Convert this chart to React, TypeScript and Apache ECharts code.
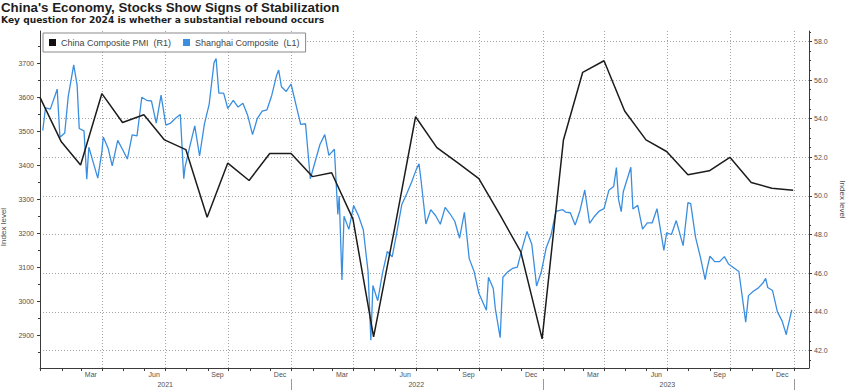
import React, { useEffect, useRef } from 'react';
import * as echarts from 'echarts';

const TITLE = "China's Economy, Stocks Show Signs of Stabilization";
const SUBTITLE = 'Key question for 2024 is whether a substantial rebound occurs';
const PMI_NAME = 'China Composite PMI  (R1)';
const SH_NAME = 'Shanghai Composite  (L1)';
const AXIS_NAME = 'Index level';

// China Composite PMI, monthly (plotted at month end)
const PMI_MONTHS = [
  '2020-12', '2021-01', '2021-02', '2021-03', '2021-04', '2021-05', '2021-06', '2021-07', '2021-08', '2021-09', '2021-10', '2021-11', '2021-12',
  '2022-01', '2022-02', '2022-03', '2022-04', '2022-05', '2022-06', '2022-07', '2022-08', '2022-09', '2022-10', '2022-11', '2022-12',
  '2023-01', '2023-02', '2023-03', '2023-04', '2023-05', '2023-06', '2023-07', '2023-08', '2023-09', '2023-10', '2023-11', '2023-12',
];
const PMI_VALUES = [
  55.1, 52.8, 51.6, 55.3, 53.8, 54.2, 52.9, 52.4, 48.9, 51.7, 50.8, 52.2, 52.2,
  51.0, 51.2, 48.8, 42.7, 48.4, 54.1, 52.5, 51.7, 50.9, 49.0, 47.1, 42.6,
  52.9, 56.4, 57.0, 54.4, 52.9, 52.3, 51.1, 51.3, 52.0, 50.7, 50.4, 50.3,
];

// Shanghai Composite
const SH_DATES = [
  '2021-01-04', '2021-01-08', '2021-01-15', '2021-01-22', '2021-01-25', '2021-01-29', '2021-02-05', '2021-02-10', '2021-02-18', '2021-02-23',
  '2021-02-26', '2021-03-05', '2021-03-09', '2021-03-12', '2021-03-19', '2021-03-25', '2021-03-31', '2021-04-02', '2021-04-09', '2021-04-15',
  '2021-04-23', '2021-04-30', '2021-05-07', '2021-05-14', '2021-05-21', '2021-05-28', '2021-06-04', '2021-06-11', '2021-06-18', '2021-06-25',
  '2021-07-02', '2021-07-09', '2021-07-16', '2021-07-23', '2021-07-28', '2021-07-30', '2021-08-06', '2021-08-13', '2021-08-20', '2021-08-27',
  '2021-09-03', '2021-09-10', '2021-09-13', '2021-09-17', '2021-09-24', '2021-09-30', '2021-10-08', '2021-10-15', '2021-10-22', '2021-10-29',
  '2021-11-05', '2021-11-12', '2021-11-19', '2021-11-26', '2021-12-03', '2021-12-10', '2021-12-13', '2021-12-17', '2021-12-24', '2021-12-31',
  '2022-01-07', '2022-01-14', '2022-01-21', '2022-01-28', '2022-02-11', '2022-02-18', '2022-02-24', '2022-03-04', '2022-03-09', '2022-03-11',
  '2022-03-15', '2022-03-18', '2022-03-25', '2022-04-01', '2022-04-08', '2022-04-15', '2022-04-22', '2022-04-26', '2022-04-29', '2022-05-06',
  '2022-05-13', '2022-05-20', '2022-05-27', '2022-06-02', '2022-06-10', '2022-06-17', '2022-06-24', '2022-07-01', '2022-07-05', '2022-07-08',
  '2022-07-15', '2022-07-22', '2022-07-29', '2022-08-05', '2022-08-12', '2022-08-19', '2022-08-26', '2022-09-02', '2022-09-09', '2022-09-16',
  '2022-09-23', '2022-09-30', '2022-10-11', '2022-10-14', '2022-10-21', '2022-10-24', '2022-10-31', '2022-11-04', '2022-11-11', '2022-11-18',
  '2022-11-25', '2022-12-02', '2022-12-09', '2022-12-16', '2022-12-23', '2022-12-30',
  '2023-01-06', '2023-01-13', '2023-01-20', '2023-01-30', '2023-02-03', '2023-02-10', '2023-02-17', '2023-02-24', '2023-03-03', '2023-03-10',
  '2023-03-17', '2023-03-24', '2023-03-31', '2023-04-07', '2023-04-14', '2023-04-18', '2023-04-21', '2023-04-25', '2023-04-28', '2023-05-09',
  '2023-05-12', '2023-05-19', '2023-05-26', '2023-06-02', '2023-06-09', '2023-06-16', '2023-06-26', '2023-06-30', '2023-07-07', '2023-07-14',
  '2023-07-24', '2023-07-31', '2023-08-04', '2023-08-11', '2023-08-18', '2023-08-25', '2023-08-28', '2023-09-01', '2023-09-08', '2023-09-15',
  '2023-09-22', '2023-09-28', '2023-10-13', '2023-10-20', '2023-10-23', '2023-10-27', '2023-11-03', '2023-11-10', '2023-11-17', '2023-11-21',
  '2023-11-24', '2023-12-01', '2023-12-08', '2023-12-15', '2023-12-21', '2023-12-22', '2023-12-29',
];
const SH_VALUES = [
  3503, 3570, 3566, 3607, 3625, 3483, 3496, 3603, 3696, 3636,
  3509, 3502, 3360, 3454, 3405, 3363, 3441, 3484, 3451, 3399,
  3474, 3447, 3419, 3490, 3487, 3601, 3592, 3590, 3525, 3607,
  3519, 3525, 3539, 3550, 3361, 3397, 3458, 3517, 3428, 3522,
  3581, 3703, 3715, 3613, 3613, 3568, 3592, 3572, 3583, 3547,
  3491, 3539, 3560, 3564, 3607, 3666, 3681, 3632, 3618, 3640,
  3580, 3521, 3523, 3361, 3462, 3491, 3430, 3448, 3256, 3310,
  3063, 3251, 3212, 3282, 3252, 3211, 3087, 2886, 3047, 3002,
  3084, 3147, 3131, 3195, 3285, 3316, 3350, 3388, 3405, 3356,
  3228, 3270, 3253, 3227, 3277, 3258, 3236, 3186, 3262, 3126,
  3089, 3024, 2974, 3071, 3038, 2978, 2893, 3071, 3087, 3097,
  3101, 3156, 3206, 3168, 3045, 3089,
  3158, 3195, 3265, 3270, 3263, 3261, 3225, 3267, 3328, 3230,
  3250, 3266, 3273, 3327, 3338, 3394, 3301, 3264, 3323, 3395,
  3272, 3283, 3213, 3231, 3231, 3273, 3150, 3202, 3197, 3238,
  3164, 3291, 3288, 3189, 3131, 3064, 3098, 3133, 3117, 3117,
  3132, 3110, 3088, 2983, 2939, 3017, 3030, 3039, 3054, 3068,
  3041, 3032, 2970, 2942, 2902, 2914, 2975,
];

const LEFT_TICKS = [2900, 3000, 3100, 3200, 3300, 3400, 3500, 3600, 3700];
const LEFT_MINOR = [2850, 2950, 3050, 3150, 3250, 3350, 3450, 3550, 3650, 3750];
const RIGHT_TICKS = [42, 44, 46, 48, 50, 52, 54, 56, 58];
const RIGHT_MINOR = [41.5, 42.5, 43, 43.5, 44.5, 45, 45.5, 46.5, 47, 47.5, 48.5, 49, 49.5, 50.5, 51, 51.5, 52.5, 53, 53.5, 54.5, 55, 55.5, 56.5, 57, 57.5, 58.5];
const MONTH_NAMES = ['Jan', 'Feb', 'Mar', 'Apr', 'May', 'Jun', 'Jul', 'Aug', 'Sep', 'Oct', 'Nov', 'Dec'];
const LABEL_MONTHS = [2, 5, 8, 11];
const YEARS = [2021, 2022, 2023];

const X_MIN = Date.UTC(2020, 11, 31);
const X_MAX = Date.UTC(2024, 0, 23);
const LEFT_MIN = 2804;
const LEFT_MAX = 3796;
const RIGHT_MIN = 41.09;
const RIGHT_MAX = 58.54;

const toTs = (s: string) => {
  const [y, m, d] = s.split('-').map(Number);
  return Date.UTC(y, m - 1, d);
};
const monthEnd = (s: string) => {
  const [y, m] = s.split('-').map(Number);
  return Date.UTC(y, m, 0);
};

const MONTH_TICKS: number[] = [];
const LABEL_POS: number[] = [];
const QUARTER_STARTS: number[] = [];
const YEAR_BOUNDS: number[] = [];
const YEAR_MIDS: number[] = [];
YEARS.forEach((y) => {
  for (let m = 0; m < 12; m++) {
    MONTH_TICKS.push(Date.UTC(y, m, 1));
    if (m % 3 === 0 && !(y === YEARS[0] && m === 0)) QUARTER_STARTS.push(Date.UTC(y, m, 1));
  }
  LABEL_MONTHS.forEach((m) => LABEL_POS.push(Date.UTC(y, m, 15)));
  YEAR_MIDS.push(Date.UTC(y, 6, 1));
  if (y !== YEARS[0]) YEAR_BOUNDS.push(Date.UTC(y, 0, 1));
});
const LAST = YEARS[YEARS.length - 1] + 1;
MONTH_TICKS.push(Date.UTC(LAST, 0, 1));
QUARTER_STARTS.push(Date.UTC(LAST, 0, 1));
YEAR_BOUNDS.push(Date.UTC(LAST, 0, 1));

const FONT = "'Liberation Sans', Arial, sans-serif";
const AXIS_COLOR = '#3a3a3a';
const LABEL_COLOR = '#505050';
const GRID_COLOR = '#9a9a9a';

export default function App() {
  const ref = useRef<HTMLDivElement>(null);
  useEffect(() => {
    if (!ref.current) return;
    const chart = echarts.init(ref.current, undefined, { renderer: 'svg' });
    const shData = SH_DATES.map((d, i) => [toTs(d), SH_VALUES[i]]);
    const pmiData = PMI_MONTHS.map((m, i) => [monthEnd(m), PMI_VALUES[i]]);
    const gridLineStyle = { color: GRID_COLOR, type: [1, 2], width: 1, opacity: 0.9 };
    chart.setOption({
      animation: false,
      backgroundColor: '#ffffff',
      title: {
        text: TITLE,
        subtext: SUBTITLE,
        left: 0,
        top: 0,
        padding: [1, 0, 0, 1],
        itemGap: 1,
        textStyle: { fontFamily: FONT, fontSize: 13.3, fontWeight: 'bold', color: '#1e1e1e' },
        subtextStyle: { fontFamily: "'DejaVu Sans', sans-serif", fontSize: 9.1, fontWeight: 'bold', color: '#1e1e1e' },
      },
      legend: {
        left: 43,
        top: 33,
        z: 20,
        data: [PMI_NAME, SH_NAME],
        icon: 'rect',
        itemWidth: 7,
        itemHeight: 7,
        itemGap: 12,
        padding: [5, 6],
        borderColor: '#8a8a8a',
        borderWidth: 1,
        backgroundColor: '#ffffff',
        selectedMode: false,
        textStyle: { fontFamily: FONT, fontSize: 9, color: '#444' },
      },
      grid: { left: 40, right: 39, top: 31, bottom: 22, containLabel: false, outerBoundsMode: 'none' },
      xAxis: [
        {
          type: 'value', min: X_MIN, max: X_MAX, position: 'bottom',
          axisLine: { show: true, lineStyle: { color: AXIS_COLOR, width: 1 } },
          axisTick: { show: true, customValues: MONTH_TICKS, length: 3, lineStyle: { color: AXIS_COLOR } },
          axisLabel: {
            customValues: LABEL_POS,
            formatter: (v: number) => MONTH_NAMES[new Date(v).getUTCMonth()],
            fontFamily: FONT, fontSize: 7, color: LABEL_COLOR, margin: 3,
          },
          splitLine: { show: false },
        },
        {
          type: 'value', min: X_MIN, max: X_MAX, position: 'bottom', offset: 11,
          axisLine: { show: false },
          axisTick: { show: true, customValues: YEAR_BOUNDS, length: 11, lineStyle: { color: '#999' } },
          axisLabel: {
            customValues: YEAR_MIDS,
            formatter: (v: number) => String(new Date(v).getUTCFullYear()),
            fontFamily: FONT, fontSize: 7, color: LABEL_COLOR, margin: 1.5,
          },
          splitLine: { show: false },
        },
      ],
      yAxis: [
        {
          type: 'value', min: LEFT_MIN, max: LEFT_MAX, position: 'left',
          name: AXIS_NAME, nameLocation: 'middle', nameGap: 25,
          nameTextStyle: { fontFamily: FONT, fontSize: 8, color: LABEL_COLOR, padding: [0, 55, 0, 0] },
          axisLine: { show: true, lineStyle: { color: AXIS_COLOR, width: 1 } },
          axisTick: { show: true, customValues: LEFT_TICKS, length: 3, lineStyle: { color: AXIS_COLOR } },
          axisLabel: { customValues: LEFT_TICKS, formatter: (v: number) => String(v), fontFamily: FONT, fontSize: 7, color: LABEL_COLOR, margin: 6 },
          splitLine: { show: false },
        },
        {
          type: 'value', min: RIGHT_MIN, max: RIGHT_MAX, position: 'right',
          name: AXIS_NAME, nameLocation: 'middle', nameGap: 28, nameRotate: -90,
          nameTextStyle: { fontFamily: FONT, fontSize: 8, color: LABEL_COLOR },
          axisLine: { show: true, lineStyle: { color: AXIS_COLOR, width: 1 } },
          axisTick: { show: true, customValues: RIGHT_TICKS, length: 3, lineStyle: { color: AXIS_COLOR } },
          axisLabel: { customValues: RIGHT_TICKS, formatter: (v: number) => v.toFixed(1), fontFamily: FONT, fontSize: 7, color: LABEL_COLOR, margin: 5 },
          splitLine: { show: false },
        },
        {
          type: 'value', min: LEFT_MIN, max: LEFT_MAX, position: 'left',
          axisLine: { show: false }, axisLabel: { show: false }, splitLine: { show: false },
          axisTick: { show: true, customValues: LEFT_MINOR, length: 2, lineStyle: { color: AXIS_COLOR } },
        },
        {
          type: 'value', min: RIGHT_MIN, max: RIGHT_MAX, position: 'right',
          axisLine: { show: false }, axisLabel: { show: false }, splitLine: { show: false },
          axisTick: { show: true, customValues: RIGHT_MINOR, length: 2, lineStyle: { color: AXIS_COLOR } },
        },
      ],
      series: [
        {
          name: 'grid', type: 'line', xAxisIndex: 0, yAxisIndex: 1, data: [], z: 0,
          silent: true,
          markLine: {
            silent: true,
            z: 0,
            symbol: ['none', 'none'],
            label: { show: false },
            lineStyle: gridLineStyle,
            emphasis: { disabled: true },
            data: [
              ...QUARTER_STARTS.map((x) => ({ xAxis: x })),
              ...RIGHT_TICKS.map((y) => ({ yAxis: y })),
            ],
          },
        },
        {
          name: SH_NAME, type: 'line', xAxisIndex: 0, yAxisIndex: 0, data: shData, z: 2,
          symbol: 'none', showSymbol: false,
          lineStyle: { color: '#3a8ee0', width: 1.3 }, itemStyle: { color: '#3a8ee0' },
        },
        {
          name: PMI_NAME, type: 'line', xAxisIndex: 0, yAxisIndex: 1, data: pmiData, z: 3,
          symbol: 'none', showSymbol: false,
          lineStyle: { color: '#1c1c1c', width: 1.5 }, itemStyle: { color: '#111' },
        },
      ],
    });
    return () => chart.dispose();
  }, []);
  return <div ref={ref} style={{ position: 'absolute', left: 0, top: 0, width: 848, height: 390 }} />;
}
